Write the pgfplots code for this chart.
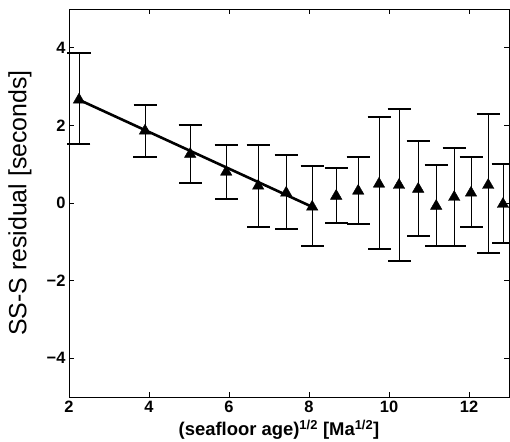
\documentclass[border=0pt]{standalone}
\usepackage{pgfplots}
\pgfplotsset{compat=1.18}
\usepackage{fontspec}
\setmainfont{Liberation Sans}
\pgfplotstableread{
x y ep em
2.25 2.66 1.21 1.14
3.90 1.86 0.67 0.67
5.03 1.26 0.75 0.74
5.93 0.80 0.70 0.70
6.73 0.44 1.06 1.06
7.43 0.26 0.98 0.93
8.08 -0.10 1.05 1.01
8.68 0.18 0.72 0.70
9.23 0.31 0.88 0.85
9.75 0.49 1.73 1.68
10.25 0.46 1.97 1.96
10.73 0.36 1.24 1.21
11.18 -0.08 1.06 1.03
11.63 0.15 1.27 1.26
12.05 0.26 0.93 0.88
12.48 0.46 1.84 1.75
12.85 -0.03 1.03 1.00
}\datatable
\begin{document}
\begin{tikzpicture}
\useasboundingbox (-69bp,-45bp) rectangle (441bp,397bp);
\begin{axis}[
  scale only axis, width=440bp, height=388bp,
  xmin=2, xmax=13, ymin=-5, ymax=5,
  xtick={2,4,...,12}, ytick={-4,-2,0,2,4},
  yticklabels={−4,−2,0,2,4},
  tick align=inside, major tick length=5bp,
  axis line style={line width=0.9bp},
  tick style={line width=0.7bp, black},
  clip=false,
  /pgf/number format/assume math mode=true,
  tick label style={font=\bfseries\fontsize{16.5}{16.5}\selectfont},
  xticklabel style={yshift=-1bp},
  xlabel={(seafloor age)\textsuperscript{1/2} [Ma\textsuperscript{1/2}]},
  xlabel style={font=\bfseries\fontsize{18.5}{18.5}\selectfont, at={(axis description cs:0.5,0)}, anchor=center, yshift=-33bp, xshift=-10bp},
  ylabel={SS-S residual [seconds]},
  ylabel style={font=\fontsize{25}{25}\selectfont, at={(axis description cs:0,0.5)}, anchor=center, rotate=0, yshift=49bp},
]
\addplot[black, line width=2.6bp, no marks] coordinates {(2.25,2.66) (8.08,-0.10)};
\addplot[black, only marks, mark=triangle*, mark size=6.6bp,
  error bars/.cd, y dir=both, y explicit,
  error bar style={line width=0.9bp, black},
  error mark options={rotate=90, mark size=11.5bp, line width=2bp, black}]
  table[x=x, y=y, y error plus=ep, y error minus=em] {\datatable};
\end{axis}
\end{tikzpicture}
\end{document}
